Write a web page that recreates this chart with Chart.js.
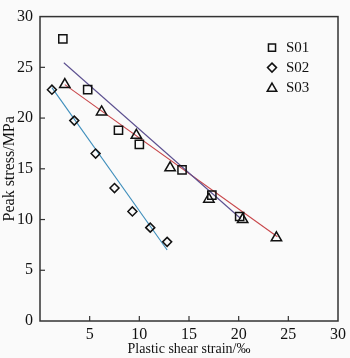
<!DOCTYPE html>
<html>
<head>
<meta charset="utf-8">
<script src="https://cdn.jsdelivr.net/npm/chart.js@4"></script>
<style>
  html, body { margin: 0; padding: 0; background: #fafafa; }
  #wrap { width: 350px; height: 358px; }
</style>
</head>
<body>
<div id="wrap"><canvas id="strainChart" width="350" height="358"></canvas></div>
<script>
// measured points
const s01Strain = [2.3, 4.8, 7.9, 10.0, 14.3, 17.3, 20.1];
const s01Stress = [27.8, 22.8, 18.8, 17.4, 14.9, 12.4, 10.3];
const s02Strain = [1.2, 3.45, 5.6, 7.5, 9.3, 11.1, 12.8];
const s02Stress = [22.8, 19.75, 16.5, 13.1, 10.8, 9.2, 7.8];
const s03Strain = [2.5, 6.2, 9.7, 13.1, 17.0, 20.4, 23.8];
const s03Stress = [23.3, 20.6, 18.3, 15.1, 12.0, 10.0, 8.2];

// fitted lines (end points)
const fit01Strain = [2.4, 20.2];
const fit01Stress = [25.45, 10.1];
const fit02Strain = [1.2, 12.8];
const fit02Stress = [23.0, 7.0];
const fit03Strain = [2.5, 23.9];
const fit03Stress = [23.3, 8.3];

const seriesNames = ["S01", "S02", "S03"];
const seriesShapes = ["rect", "rectRot", "triangle"];
const axisTicks = [0, 5, 10, 15, 20, 25, 30];

function toPoints(xs, ys) {
    return xs.map((x, i) => ({ x: x, y: ys[i] }));
}

function drawShape(ctx, shape, x, y, r) {
    ctx.beginPath();
    if (shape === "rect") {
        const s = r * Math.SQRT1_2;
        ctx.rect(x - s, y - s, 2 * s, 2 * s);
    } else if (shape === "rectRot") {
        ctx.moveTo(x, y - r);
        ctx.lineTo(x + r, y);
        ctx.lineTo(x, y + r);
        ctx.lineTo(x - r, y);
        ctx.closePath();
    } else {
        ctx.moveTo(x, y - r);
        ctx.lineTo(x + r * 0.866, y + r / 2);
        ctx.lineTo(x - r * 0.866, y + r / 2);
        ctx.closePath();
    }
    ctx.stroke();
}

const framePlugin = {
    id: "frame",
    beforeDraw(chart) {
        const ctx = chart.ctx;
        ctx.save();
        ctx.fillStyle = "#fafafa";
        ctx.fillRect(0, 0, chart.width, chart.height);
        ctx.restore();
    },
    afterDatasetsDraw(chart) {
        const ctx = chart.ctx;
        const a = chart.chartArea;
        ctx.save();
        ctx.strokeStyle = "#333";
        ctx.lineWidth = 1.5;
        ctx.strokeRect(a.left, a.top, a.right - a.left, a.bottom - a.top);

        // inward tick marks
        ctx.lineWidth = 1.2;
        const xs = chart.scales.x, ys = chart.scales.y;
        axisTicks.slice(1, -1).forEach(v => {
            const px = xs.getPixelForValue(v);
            ctx.beginPath();
            ctx.moveTo(px, a.bottom);
            ctx.lineTo(px, a.bottom - 5);
            ctx.stroke();
            const py = ys.getPixelForValue(v);
            ctx.beginPath();
            ctx.moveTo(a.left, py);
            ctx.lineTo(a.left + 5, py);
            ctx.stroke();
        });

        // legend inside the plot
        ctx.font = "15px 'Liberation Serif'";
        ctx.fillStyle = "#111";
        ctx.textBaseline = "middle";
        const radii = [5, 4.5, 5.5];
        seriesNames.forEach((name, i) => {
            const y = a.top + 31 + i * 20;
            ctx.strokeStyle = "#111";
            ctx.lineWidth = 1.5;
            drawShape(ctx, seriesShapes[i], a.left + 232, y + (i === 2 ? 1 : 0), radii[i]);
            ctx.fillText(name, a.left + 246, y);
        });
        ctx.restore();
    }
};

const pointStyle = {
    showLine: false,
    borderColor: "#111",
    backgroundColor: "rgba(0,0,0,0)",
    pointBorderColor: "#111",
    pointBackgroundColor: "rgba(0,0,0,0)",
    pointBorderWidth: 1.5
};

const ctx = document.getElementById("strainChart").getContext("2d");
new Chart(ctx, {
    type: "scatter",
    data: {
        datasets: [
            Object.assign({ label: seriesNames[0], data: toPoints(s01Strain, s01Stress), pointStyle: "rect", pointRadius: 5.8 }, pointStyle),
            Object.assign({ label: seriesNames[1], data: toPoints(s02Strain, s02Stress), pointStyle: "rectRot", pointRadius: 4.5 }, pointStyle),
            Object.assign({ label: seriesNames[2], data: toPoints(s03Strain, s03Stress), pointStyle: "triangle", pointRadius: 6 }, pointStyle),
            { label: "fit S01", data: toPoints(fit01Strain, fit01Stress), showLine: true, pointRadius: 0, borderColor: "#5b4f8f", borderWidth: 1.1 },
            { label: "fit S02", data: toPoints(fit02Strain, fit02Stress), showLine: true, pointRadius: 0, borderColor: "#3d8dbb", borderWidth: 1.1 },
            { label: "fit S03", data: toPoints(fit03Strain, fit03Stress), showLine: true, pointRadius: 0, borderColor: "#c8464a", borderWidth: 1.1 }
        ]
    },
    options: {
        responsive: false,
        animation: false,
        layout: { padding: { top: 4, right: 6, left: 0, bottom: 0 } },
        plugins: {
            legend: { display: false },
            tooltip: { enabled: false }
        },
        scales: {
            x: {
                type: "linear",
                min: 0,
                max: 30,
                afterBuildTicks: scale => { scale.ticks = axisTicks.map(v => ({ value: v })); },
                afterFit: scale => { scale.height = 37; },
                grid: { display: false, drawTicks: false },
                border: { display: false },
                ticks: {
                    padding: 4,
                    color: "#111",
                    font: { family: "'Liberation Serif'", size: 16 },
                    callback: v => (v === 0 ? "" : v)
                },
                title: {
                    display: true,
                    text: "Plastic shear strain/‰",
                    color: "#111",
                    padding: 0,
                    font: { family: "'Liberation Serif'", size: 14 }
                }
            },
            y: {
                type: "linear",
                min: 0,
                max: 30,
                afterBuildTicks: scale => { scale.ticks = axisTicks.map(v => ({ value: v })); },
                afterFit: scale => { scale.width = 40; },
                grid: { display: false, drawTicks: false },
                border: { display: false },
                ticks: {
                    padding: 7,
                    color: "#111",
                    font: { family: "'Liberation Serif'", size: 16 }
                },
                title: {
                    display: true,
                    text: "Peak stress/MPa",
                    color: "#111",
                    padding: 0,
                    font: { family: "'Liberation Serif'", size: 16 }
                }
            }
        }
    },
    plugins: [framePlugin]
});
</script>
</body>
</html>
